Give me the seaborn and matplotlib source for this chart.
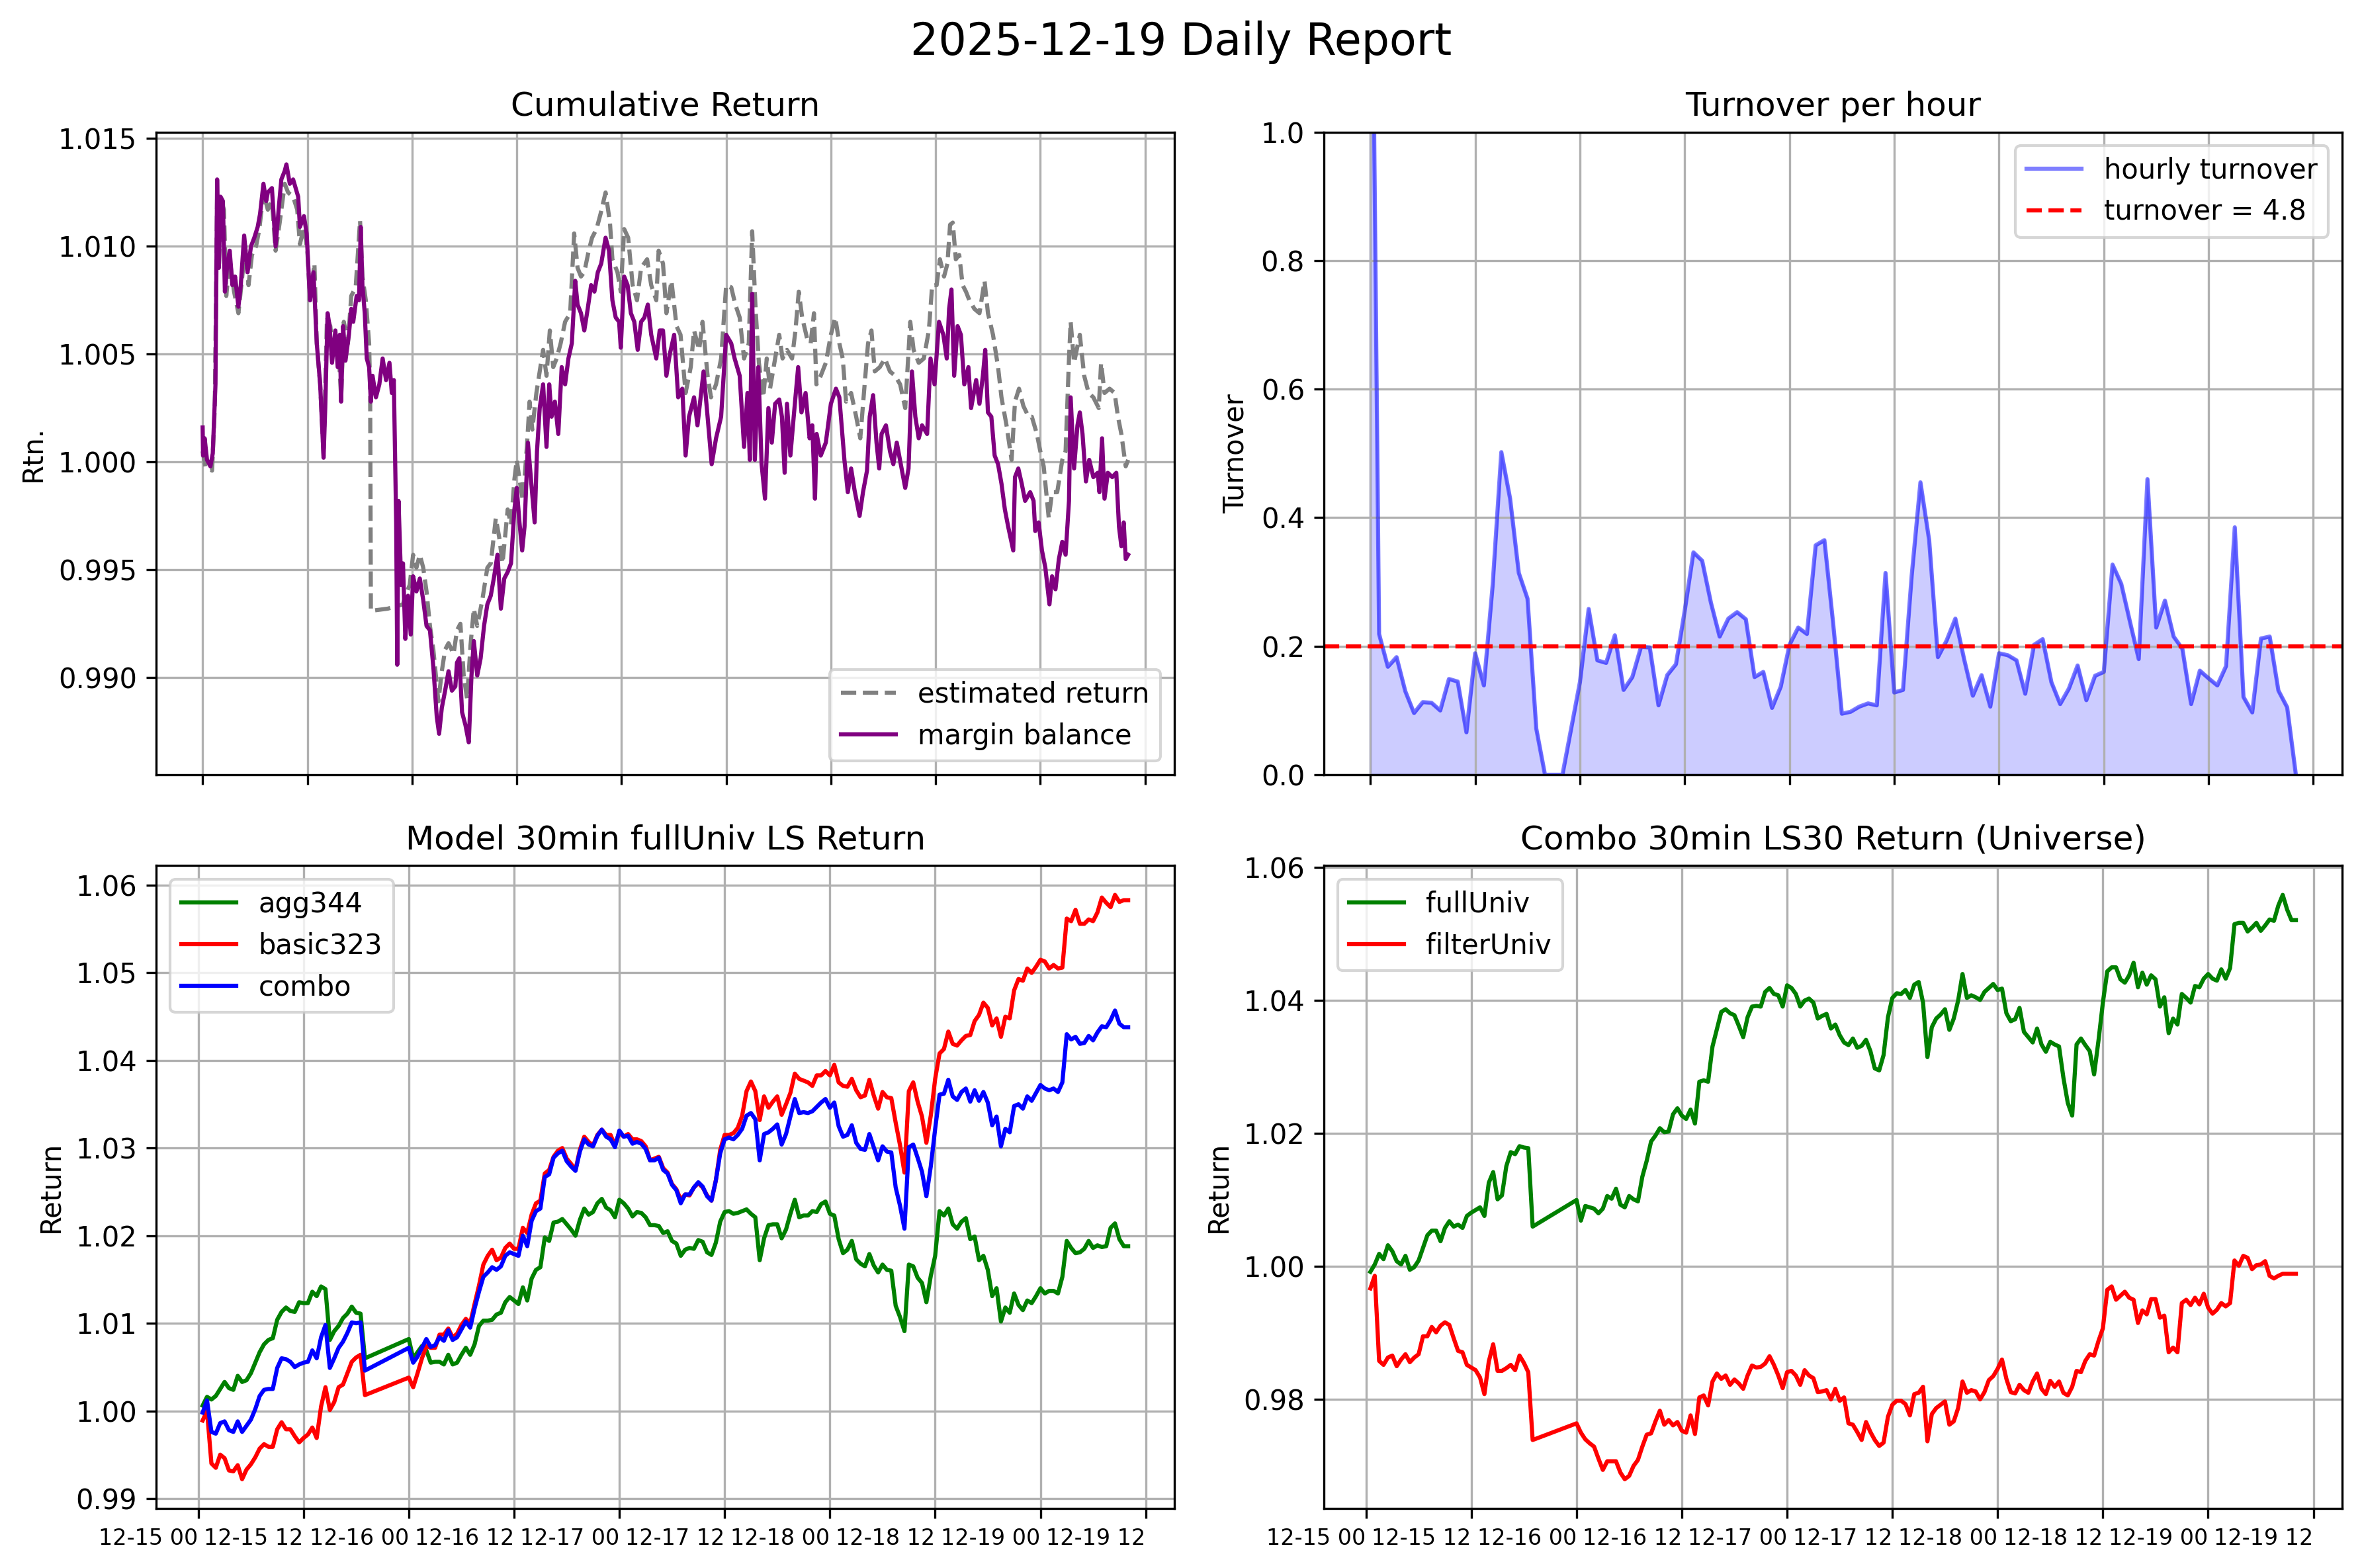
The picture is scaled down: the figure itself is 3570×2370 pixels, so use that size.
import numpy as np
import pandas as pd
import matplotlib
matplotlib.use('Agg')
import matplotlib.pyplot as plt
import matplotlib.dates as mdates
import seaborn as sns

START = pd.Timestamp('2025-12-15 00:00')
REPORT_DATE = '2025-12-19'

# --- Cumulative return: (hours since 12-15 00:00, value) ---
margin_balance = [
    (0.00, 1.0016), (0.05, 1.0003), (0.23, 1.0011), (0.50, 1.0001), (0.89, 0.9998), (1.16, 1.0004),
    (1.47, 1.0036), (1.66, 1.0131), (1.86, 1.0090), (2.05, 1.0123), (2.32, 1.0121), (2.55, 1.0079),
    (2.83, 1.0092), (3.10, 1.0098), (3.41, 1.0082), (3.72, 1.0086), (4.10, 1.0072), (4.37, 1.0082),
    (4.76, 1.0105), (5.15, 1.0088), (5.54, 1.0100), (5.92, 1.0104), (6.31, 1.0109), (6.58, 1.0115),
    (6.97, 1.0129), (7.28, 1.0121), (7.47, 1.0125), (7.94, 1.0127), (8.36, 1.0100), (8.75, 1.0119),
    (9.02, 1.0131), (9.41, 1.0135), (9.60, 1.0138), (9.99, 1.0129), (10.37, 1.0131), (10.95, 1.0123),
    (11.15, 1.0109), (11.61, 1.0114), (11.92, 1.0106), (12.31, 1.0075), (12.70, 1.0088), (13.08, 1.0055),
    (13.47, 1.0036), (13.86, 1.0002), (14.05, 1.0025), (14.32, 1.0069), (14.55, 1.0063), (14.83, 1.0046),
    (15.21, 1.0061), (15.48, 1.0044), (15.72, 1.0059), (15.87, 1.0028), (16.10, 1.0063), (16.37, 1.0047),
    (16.76, 1.0059), (17.03, 1.0071), (17.26, 1.0065), (17.65, 1.0077), (17.92, 1.0075), (18.12, 1.0109),
    (18.31, 1.0082), (18.58, 1.0069), (18.81, 1.0048), (19.08, 1.0044), (19.28, 1.0028), (19.47, 1.0040),
    (19.86, 1.0030), (20.25, 1.0036), (20.63, 1.0048), (21.02, 1.0038), (21.41, 1.0046), (21.68, 1.0032),
    (21.91, 1.0038), (22.06, 1.0001), (22.18, 0.9972), (22.30, 0.9906), (22.45, 0.9982), (22.76, 0.9943),
    (22.96, 0.9953), (23.23, 0.9918), (23.54, 0.9938), (23.85, 0.9920), (24.12, 0.9947), (24.50, 0.9940),
    (24.89, 0.9946), (25.28, 0.9936), (25.66, 0.9924), (26.05, 0.9922), (26.44, 0.9905), (26.83, 0.9882),
    (27.10, 0.9874), (27.41, 0.9886), (27.79, 0.9894), (28.18, 0.9903), (28.57, 0.9894), (28.96, 0.9896),
    (29.15, 0.9907), (29.42, 0.9909), (29.73, 0.9884), (30.12, 0.9878), (30.50, 0.9870), (30.81, 0.9901),
    (31.08, 0.9917), (31.47, 0.9901), (31.86, 0.9909), (32.25, 0.9924), (32.63, 0.9934), (33.02, 0.9938),
    (33.41, 0.9947), (33.79, 0.9957), (34.18, 0.9932), (34.57, 0.9946), (34.96, 0.9949), (35.34, 0.9953),
    (35.73, 0.9978), (36.00, 0.9988), (36.31, 0.9972), (36.62, 0.9959), (36.89, 0.9970), (37.28, 1.0009),
    (37.67, 0.9990), (38.05, 0.9972), (38.32, 1.0005), (38.63, 1.0025), (39.02, 1.0036), (39.41, 1.0007),
    (39.72, 1.0036), (39.99, 1.0021), (40.37, 1.0028), (40.76, 1.0013), (41.15, 1.0044), (41.54, 1.0036),
    (41.92, 1.0048), (42.31, 1.0055), (42.70, 1.0084), (42.97, 1.0073), (43.36, 1.0069), (43.74, 1.0061),
    (44.13, 1.0071), (44.52, 1.0082), (44.90, 1.0079), (45.29, 1.0088), (45.68, 1.0092), (46.18, 1.0104),
    (46.57, 1.0098), (46.96, 1.0075), (47.34, 1.0067), (47.73, 1.0065), (47.92, 1.0053), (48.31, 1.0086),
    (48.70, 1.0082), (49.08, 1.0069), (49.47, 1.0065), (49.86, 1.0052), (50.25, 1.0065), (50.63, 1.0067),
    (51.02, 1.0073), (51.41, 1.0059), (51.99, 1.0048), (52.38, 1.0061), (52.76, 1.0061), (53.15, 1.0040),
    (53.54, 1.0050), (54.04, 1.0059), (54.50, 1.0030), (54.97, 1.0034), (55.35, 1.0003), (55.74, 1.0021),
    (56.32, 1.0030), (56.71, 1.0017), (57.41, 1.0042), (57.87, 1.0021), (58.34, 0.9999), (58.84, 1.0011),
    (59.42, 1.0021), (60.00, 1.0059), (60.58, 1.0055), (60.97, 1.0048), (61.55, 1.0040), (62.05, 1.0007),
    (62.44, 1.0032), (62.71, 1.0001), (62.98, 1.0078), (63.29, 1.0001), (63.68, 1.0044), (64.06, 0.9999),
    (64.45, 0.9983), (64.84, 1.0025), (65.23, 1.0009), (65.61, 1.0027), (66.08, 1.0029), (66.39, 1.0021),
    (66.70, 0.9995), (66.97, 1.0027), (67.36, 1.0003), (67.74, 1.0021), (68.25, 1.0044), (68.63, 1.0023),
    (69.10, 1.0032), (69.56, 1.0011), (69.87, 1.0017), (70.18, 0.9983), (70.37, 1.0013), (70.84, 1.0003),
    (71.42, 1.0009), (72.00, 1.0027), (72.58, 1.0034), (72.97, 1.0030), (73.55, 1.0001), (73.94, 0.9986),
    (74.32, 0.9997), (74.71, 0.9987), (75.29, 0.9975), (75.68, 0.9986), (76.14, 0.9996), (76.45, 1.0021),
    (76.84, 1.0031), (77.23, 1.0009), (77.54, 0.9997), (77.81, 1.0013), (78.31, 1.0017), (78.77, 1.0005),
    (79.16, 0.9999), (79.55, 1.0009), (80.01, 0.9999), (80.52, 0.9988), (80.90, 0.9997), (81.29, 1.0042),
    (81.68, 1.0021), (82.07, 1.0011), (82.45, 1.0017), (83.03, 1.0013), (83.42, 1.0048), (83.88, 1.0036),
    (84.39, 1.0065), (84.89, 1.0059), (85.28, 1.0048), (85.55, 1.0071), (85.82, 1.0080), (86.13, 1.0040),
    (86.52, 1.0063), (86.90, 1.0059), (87.29, 1.0036), (87.76, 1.0044), (88.07, 1.0025), (88.65, 1.0038),
    (89.03, 1.0027), (89.42, 1.0040), (89.69, 1.0052), (90.00, 1.0023), (90.39, 1.0021), (90.77, 1.0003),
    (91.16, 0.9999), (91.55, 0.9990), (91.94, 0.9978), (92.32, 0.9970), (92.90, 0.9959), (93.10, 0.9993),
    (93.48, 0.9997), (93.87, 0.9990), (94.26, 0.9982), (94.84, 0.9986), (95.23, 0.9982), (95.42, 0.9968),
    (95.81, 0.9972), (96.19, 0.9959), (96.58, 0.9951), (97.05, 0.9934), (97.35, 0.9947), (97.74, 0.9941),
    (98.13, 0.9955), (98.52, 0.9963), (98.90, 0.9957), (99.29, 0.9982), (99.48, 1.0030), (99.87, 0.9997),
    (100.26, 1.0017), (100.53, 1.0023), (100.84, 1.0013), (101.23, 0.9991), (101.61, 1.0001), (102.08, 0.9993),
    (102.58, 0.9995), (102.78, 0.9986), (103.08, 1.0011), (103.36, 0.9983), (103.74, 0.9995), (104.25, 0.9993),
    (104.71, 0.9995), (105.02, 0.9970), (105.29, 0.9961), (105.56, 0.9972), (105.79, 0.9955), (106.07, 0.9957),
]

estimated_return = [
    (0.00, 1.0005), (0.31, 0.9998), (0.70, 0.9997), (1.08, 0.9996), (1.39, 1.0025), (1.66, 1.0123),
    (1.86, 1.0090), (2.13, 1.0121), (2.44, 1.0117), (2.71, 1.0077), (3.10, 1.0094), (3.60, 1.0079),
    (4.10, 1.0069), (4.49, 1.0084), (4.88, 1.0100), (5.26, 1.0082), (5.65, 1.0096), (6.12, 1.0100),
    (6.50, 1.0108), (6.97, 1.0125), (7.47, 1.0117), (7.94, 1.0121), (8.36, 1.0098), (8.83, 1.0111),
    (9.41, 1.0129), (9.79, 1.0125), (10.37, 1.0123), (10.84, 1.0117), (11.15, 1.0101), (11.61, 1.0109),
    (12.00, 1.0098), (12.31, 1.0075), (12.81, 1.0092), (13.08, 1.0055), (13.47, 1.0036), (13.86, 1.0003),
    (14.25, 1.0067), (14.63, 1.0063), (15.02, 1.0048), (15.48, 1.0059), (15.87, 1.0030), (16.18, 1.0065),
    (16.65, 1.0055), (17.03, 1.0077), (17.54, 1.0081), (18.04, 1.0112), (18.31, 1.0086), (18.70, 1.0075),
    (19.08, 1.0055), (19.20, 1.0032), (19.28, 0.9931), (21.21, 0.9932), (22.96, 0.9934), (23.23, 0.9938),
    (23.73, 0.9943), (24.12, 0.9957), (24.50, 0.9951), (24.89, 0.9957), (25.28, 0.9951), (25.66, 0.9940),
    (26.05, 0.9924), (26.44, 0.9913), (27.02, 0.9889), (27.41, 0.9903), (27.79, 0.9913), (28.18, 0.9916),
    (28.76, 0.9911), (29.15, 0.9922), (29.54, 0.9925), (29.92, 0.9901), (30.31, 0.9890), (30.70, 0.9915),
    (31.08, 0.9932), (31.47, 0.9924), (32.05, 0.9936), (32.63, 0.9951), (33.02, 0.9953), (33.60, 0.9974),
    (33.99, 0.9965), (34.37, 0.9953), (34.96, 0.9978), (35.34, 0.9971), (35.73, 0.9992), (36.00, 1.0001),
    (36.31, 0.9992), (36.70, 0.9982), (37.16, 1.0007), (37.47, 1.0028), (37.78, 1.0015), (38.25, 1.0032),
    (38.63, 1.0042), (39.02, 1.0052), (39.41, 1.0040), (39.79, 1.0061), (40.18, 1.0044), (40.57, 1.0048),
    (41.03, 1.0055), (41.54, 1.0065), (42.12, 1.0069), (42.58, 1.0106), (42.97, 1.0090), (43.36, 1.0086),
    (43.74, 1.0088), (44.25, 1.0098), (44.63, 1.0104), (45.14, 1.0108), (45.60, 1.0115), (46.18, 1.0125),
    (46.68, 1.0111), (46.96, 1.0094), (47.54, 1.0088), (47.92, 1.0079), (48.31, 1.0108), (48.77, 1.0104),
    (49.28, 1.0082), (49.78, 1.0075), (50.25, 1.0090), (50.94, 1.0094), (51.41, 1.0082), (51.99, 1.0075),
    (52.26, 1.0098), (52.76, 1.0092), (53.15, 1.0069), (53.73, 1.0084), (54.31, 1.0063), (54.77, 1.0059),
    (55.35, 1.0032), (55.94, 1.0044), (56.32, 1.0061), (56.90, 1.0052), (57.29, 1.0065), (57.87, 1.0040),
    (58.26, 1.0030), (58.84, 1.0036), (59.42, 1.0048), (60.00, 1.0082), (60.58, 1.0081), (61.05, 1.0073),
    (61.55, 1.0067), (62.05, 1.0048), (62.59, 1.0055), (62.98, 1.0107), (63.37, 1.0071), (63.75, 1.0046),
    (64.26, 1.0030), (64.65, 1.0048), (65.03, 1.0034), (65.61, 1.0048), (66.08, 1.0059), (66.46, 1.0048),
    (66.97, 1.0052), (67.55, 1.0048), (67.94, 1.0061), (68.32, 1.0079), (68.71, 1.0067), (69.29, 1.0057),
    (69.68, 1.0055), (70.06, 1.0069), (70.34, 1.0036), (70.84, 1.0040), (71.42, 1.0046), (72.00, 1.0059),
    (72.50, 1.0067), (72.97, 1.0055), (73.36, 1.0048), (73.74, 1.0028), (74.32, 1.0032), (74.90, 1.0021),
    (75.37, 1.0011), (75.87, 1.0036), (76.26, 1.0055), (76.65, 1.0061), (77.03, 1.0042), (77.61, 1.0044),
    (78.19, 1.0048), (78.77, 1.0042), (79.36, 1.0040), (79.94, 1.0036), (80.52, 1.0025), (81.10, 1.0065),
    (81.48, 1.0052), (82.07, 1.0046), (82.65, 1.0048), (83.23, 1.0061), (83.61, 1.0082), (84.12, 1.0082),
    (84.50, 1.0094), (84.97, 1.0086), (85.36, 1.0092), (85.66, 1.0110), (85.97, 1.0111), (86.32, 1.0094),
    (86.71, 1.0096), (87.10, 1.0082), (87.48, 1.0079), (87.87, 1.0075), (88.45, 1.0071), (89.03, 1.0069),
    (89.61, 1.0084), (90.00, 1.0069), (90.58, 1.0059), (91.16, 1.0044), (91.55, 1.0030), (92.13, 1.0017),
    (92.71, 1.0001), (93.10, 1.0028), (93.56, 1.0034), (94.06, 1.0026), (94.65, 1.0021), (95.03, 1.0021),
    (95.61, 1.0013), (96.00, 1.0005), (96.39, 0.9998), (96.97, 0.9974), (97.35, 0.9986), (97.94, 0.9986),
    (98.52, 1.0001), (98.90, 1.0005), (99.29, 1.0048), (99.48, 1.0065), (99.87, 1.0046), (100.53, 1.0059),
    (101.03, 1.0040), (101.54, 1.0032), (102.08, 1.0030), (102.70, 1.0025), (102.97, 1.0046), (103.36, 1.0032),
    (103.94, 1.0034), (104.52, 1.0032), (104.90, 1.0021), (105.29, 1.0013), (105.79, 0.9998), (106.07, 1.0001),
]

# --- hourly turnover, from 12-15 00:00 ---
hourly_turnover = [
    1.600, 0.219, 0.168, 0.183, 0.130, 0.096, 0.113, 0.112, 0.100, 0.149,
    0.145, 0.066, 0.189, 0.139, 0.294, 0.502, 0.430, 0.314, 0.274, 0.072,
    0.000, 0.000, 0.000, 0.072, 0.144, 0.258, 0.178, 0.174, 0.217, 0.132,
    0.152, 0.199, 0.198, 0.108, 0.155, 0.172, 0.255, 0.346, 0.333, 0.268,
    0.215, 0.243, 0.253, 0.242, 0.152, 0.160, 0.104, 0.137, 0.202, 0.229,
    0.219, 0.357, 0.365, 0.236, 0.095, 0.098, 0.106, 0.111, 0.108, 0.314,
    0.128, 0.132, 0.310, 0.455, 0.365, 0.183, 0.209, 0.243, 0.180, 0.123,
    0.155, 0.106, 0.189, 0.186, 0.178, 0.126, 0.202, 0.211, 0.144, 0.110,
    0.134, 0.170, 0.116, 0.154, 0.160, 0.327, 0.297, 0.238, 0.180, 0.460,
    0.229, 0.271, 0.215, 0.196, 0.110, 0.162, 0.150, 0.139, 0.169, 0.385,
    0.121, 0.097, 0.212, 0.215, 0.131, 0.105, 0.000,
]
daily_turnover = 4.8

# --- 30min LS returns (slots 38..46 missing) ---
agg344 = [
    1.0006, 1.0016, 1.0013, 1.0017, 1.0025, 1.0033, 1.0026, 1.0024, 1.0040, 1.0033,
    1.0035, 1.0043, 1.0055, 1.0067, 1.0076, 1.0081, 1.0083, 1.0104, 1.0113, 1.0118,
    1.0114, 1.0113, 1.0124, 1.0123, 1.0123, 1.0136, 1.0131, 1.0142, 1.0139, 1.0081,
    1.0091, 1.0097, 1.0106, 1.0111, 1.0119, 1.0112, 1.0111, 1.0060,
    1.0082, 1.0060, 1.0067, 1.0074, 1.0069, 1.0055, 1.0056, 1.0056, 1.0053, 1.0064,
    1.0053, 1.0055, 1.0064, 1.0072, 1.0064, 1.0076, 1.0097, 1.0103, 1.0103, 1.0104,
    1.0110, 1.0112, 1.0124, 1.0130, 1.0126, 1.0122, 1.0141, 1.0126, 1.0151, 1.0161,
    1.0164, 1.0198, 1.0194, 1.0215, 1.0216, 1.0219, 1.0213, 1.0207, 1.0200, 1.0218,
    1.0231, 1.0224, 1.0227, 1.0237, 1.0242, 1.0232, 1.0229, 1.0221, 1.0241, 1.0237,
    1.0231, 1.0222, 1.0227, 1.0226, 1.0221, 1.0212, 1.0212, 1.0211, 1.0203, 1.0205,
    1.0194, 1.0191, 1.0177,
    1.0184, 1.0186, 1.0185, 1.0195, 1.0193, 1.0181, 1.0178, 1.0192, 1.0216, 1.0227,
    1.0228, 1.0225, 1.0226, 1.0228, 1.0230, 1.0225, 1.0221, 1.0172, 1.0197, 1.0212,
    1.0213, 1.0213, 1.0197, 1.0207, 1.0225, 1.0241, 1.0221, 1.0223, 1.0223, 1.0228,
    1.0227, 1.0236, 1.0239, 1.0225, 1.0223, 1.0196, 1.0180, 1.0184, 1.0194, 1.0173,
    1.0168, 1.0165, 1.0179, 1.0166, 1.0158, 1.0167, 1.0161, 1.0160, 1.0120, 1.0107,
    1.0091, 1.0167, 1.0165, 1.0152, 1.0146, 1.0124, 1.0154, 1.0177, 1.0228, 1.0223,
    1.0231, 1.0213, 1.0208, 1.0216, 1.0220, 1.0196, 1.0199, 1.0172, 1.0177, 1.0161,
    1.0131, 1.0140, 1.0102, 1.0118, 1.0112, 1.0134, 1.0121, 1.0115, 1.0126, 1.0123,
    1.0131, 1.0140, 1.0134, 1.0137, 1.0137, 1.0134, 1.0153, 1.0194, 1.0186, 1.0180,
    1.0181, 1.0185, 1.0194, 1.0186, 1.0189, 1.0187, 1.0188, 1.0209, 1.0214, 1.0196,
    1.0188, 1.0188,
]
basic323 = [
    0.9989, 1.0000, 0.9940, 0.9935, 0.9950, 0.9946, 0.9932, 0.9931, 0.9938, 0.9922,
    0.9933, 0.9939, 0.9947, 0.9957, 0.9962, 0.9959, 0.9959, 0.9979, 0.9987, 0.9979,
    0.9979, 0.9971, 0.9964, 0.9969, 0.9973, 0.9981, 0.9969, 1.0005, 1.0027, 1.0001,
    1.0010, 1.0027, 1.0030, 1.0043, 1.0056, 1.0061, 1.0064, 1.0018,
    1.0038, 1.0027, 1.0043, 1.0060, 1.0074, 1.0072, 1.0072, 1.0087, 1.0087, 1.0094,
    1.0084, 1.0088, 1.0098, 1.0105, 1.0100, 1.0122, 1.0143, 1.0167, 1.0177, 1.0184,
    1.0172, 1.0175, 1.0186, 1.0191, 1.0185, 1.0185, 1.0209, 1.0203, 1.0224, 1.0237,
    1.0240, 1.0271, 1.0275, 1.0290, 1.0297, 1.0300, 1.0288, 1.0282, 1.0275, 1.0298,
    1.0313, 1.0307, 1.0303, 1.0315, 1.0321, 1.0315, 1.0315, 1.0303, 1.0318, 1.0313,
    1.0316, 1.0310, 1.0310, 1.0308, 1.0302, 1.0286, 1.0288, 1.0290, 1.0277, 1.0272,
    1.0259, 1.0253, 1.0241,
    1.0247, 1.0246, 1.0255, 1.0260, 1.0255, 1.0246, 1.0240, 1.0263, 1.0298, 1.0315,
    1.0315, 1.0317, 1.0323, 1.0337, 1.0365, 1.0376, 1.0365, 1.0332, 1.0359, 1.0346,
    1.0353, 1.0359, 1.0338, 1.0350, 1.0363, 1.0385, 1.0379, 1.0377, 1.0375, 1.0371,
    1.0383, 1.0383, 1.0388, 1.0383, 1.0395, 1.0375, 1.0371, 1.0370, 1.0379, 1.0366,
    1.0358, 1.0360, 1.0378, 1.0360, 1.0345, 1.0364, 1.0358, 1.0357, 1.0329, 1.0303,
    1.0272, 1.0365, 1.0375, 1.0353, 1.0336, 1.0306, 1.0337, 1.0379, 1.0408, 1.0413,
    1.0433, 1.0419, 1.0417, 1.0423, 1.0428, 1.0429, 1.0445, 1.0452, 1.0466, 1.0460,
    1.0440, 1.0448, 1.0427, 1.0450, 1.0448, 1.0480, 1.0493, 1.0491, 1.0505, 1.0500,
    1.0507, 1.0515, 1.0513, 1.0505, 1.0509, 1.0505, 1.0506, 1.0562, 1.0559, 1.0572,
    1.0556, 1.0556, 1.0561, 1.0559, 1.0569, 1.0586, 1.0580, 1.0575, 1.0589, 1.0581,
    1.0583, 1.0583,
]
combo = [
    0.9998, 1.0012, 0.9976, 0.9974, 0.9986, 0.9988, 0.9978, 0.9976, 0.9988, 0.9976,
    0.9983, 0.9990, 1.0002, 1.0017, 1.0024, 1.0025, 1.0025, 1.0049, 1.0060, 1.0059,
    1.0056, 1.0050, 1.0053, 1.0055, 1.0056, 1.0069, 1.0060, 1.0084, 1.0098, 1.0049,
    1.0060, 1.0072, 1.0079, 1.0089, 1.0101, 1.0100, 1.0101, 1.0046,
    1.0072, 1.0055, 1.0062, 1.0072, 1.0082, 1.0073, 1.0075, 1.0084, 1.0080, 1.0092,
    1.0081, 1.0084, 1.0093, 1.0102, 1.0095, 1.0117, 1.0136, 1.0153, 1.0158, 1.0164,
    1.0161, 1.0165, 1.0177, 1.0181, 1.0179, 1.0177, 1.0200, 1.0188, 1.0217, 1.0228,
    1.0231, 1.0267, 1.0270, 1.0289, 1.0294, 1.0297, 1.0285, 1.0279, 1.0274, 1.0296,
    1.0310, 1.0304, 1.0302, 1.0314, 1.0321, 1.0313, 1.0310, 1.0301, 1.0320, 1.0313,
    1.0314, 1.0305, 1.0307, 1.0305, 1.0299, 1.0286, 1.0286, 1.0289, 1.0275, 1.0271,
    1.0258, 1.0252, 1.0237,
    1.0247, 1.0247, 1.0255, 1.0261, 1.0256, 1.0245, 1.0240, 1.0263, 1.0294, 1.0310,
    1.0312, 1.0310, 1.0315, 1.0322, 1.0337, 1.0340, 1.0333, 1.0286, 1.0316, 1.0318,
    1.0322, 1.0327, 1.0304, 1.0316, 1.0336, 1.0356, 1.0340, 1.0341, 1.0340, 1.0342,
    1.0347, 1.0352, 1.0356, 1.0346, 1.0352, 1.0325, 1.0313, 1.0315, 1.0326, 1.0306,
    1.0299, 1.0298, 1.0316, 1.0301, 1.0286, 1.0302, 1.0296, 1.0295, 1.0255, 1.0234,
    1.0208, 1.0301, 1.0304, 1.0289, 1.0273, 1.0245, 1.0279, 1.0322, 1.0361, 1.0362,
    1.0378, 1.0359, 1.0355, 1.0364, 1.0368, 1.0353, 1.0366, 1.0354, 1.0364, 1.0352,
    1.0326, 1.0336, 1.0302, 1.0322, 1.0318, 1.0348, 1.0350, 1.0345, 1.0359, 1.0354,
    1.0363, 1.0372, 1.0368, 1.0366, 1.0368, 1.0364, 1.0375, 1.0430, 1.0424, 1.0427,
    1.0419, 1.0420, 1.0428, 1.0423, 1.0432, 1.0439, 1.0438, 1.0446, 1.0457, 1.0442,
    1.0438, 1.0438,
]
full_univ = [
    0.9992, 1.0003, 1.0019, 1.0011, 1.0032, 1.0023, 1.0008, 1.0003, 1.0016, 0.9995,
    0.9999, 1.0009, 1.0028, 1.0047, 1.0054, 1.0054, 1.0038, 1.0058, 1.0068, 1.0060,
    1.0063, 1.0058, 1.0076, 1.0081, 1.0085, 1.0089, 1.0076, 1.0126, 1.0142, 1.0101,
    1.0107, 1.0151, 1.0172, 1.0169, 1.0181, 1.0179, 1.0178, 1.0060,
    1.0100, 1.0069, 1.0091, 1.0089, 1.0087, 1.0080, 1.0087, 1.0106, 1.0102, 1.0117,
    1.0093, 1.0089, 1.0106, 1.0101, 1.0098, 1.0135, 1.0159, 1.0188, 1.0197, 1.0208,
    1.0202, 1.0203, 1.0229, 1.0238, 1.0227, 1.0222, 1.0236, 1.0215, 1.0278, 1.0280,
    1.0278, 1.0331, 1.0357, 1.0383, 1.0387, 1.0381, 1.0378, 1.0362, 1.0345, 1.0375,
    1.0391, 1.0392, 1.0391, 1.0413, 1.0419, 1.0410, 1.0408, 1.0391, 1.0423, 1.0419,
    1.0410, 1.0391, 1.0400, 1.0403, 1.0397, 1.0373, 1.0377, 1.0380, 1.0358, 1.0364,
    1.0348, 1.0337, 1.0333, 1.0343,
    1.0329, 1.0332, 1.0341, 1.0324, 1.0298, 1.0295, 1.0318, 1.0375, 1.0404,
    1.0411, 1.0410, 1.0416, 1.0404, 1.0424, 1.0428, 1.0397, 1.0315, 1.0360, 1.0373,
    1.0379, 1.0387, 1.0356, 1.0373, 1.0400, 1.0440, 1.0404, 1.0408, 1.0405, 1.0401,
    1.0413, 1.0419, 1.0425, 1.0416, 1.0418, 1.0381, 1.0369, 1.0372, 1.0389, 1.0353,
    1.0345, 1.0337, 1.0358, 1.0334, 1.0323, 1.0338, 1.0334, 1.0331, 1.0284, 1.0246,
    1.0227, 1.0334, 1.0343, 1.0333, 1.0324, 1.0289, 1.0340, 1.0397, 1.0444, 1.0450,
    1.0450, 1.0432, 1.0427, 1.0438, 1.0457, 1.0420, 1.0442, 1.0424, 1.0438, 1.0432,
    1.0391, 1.0405, 1.0351, 1.0373, 1.0364, 1.0410, 1.0404, 1.0397, 1.0422, 1.0420,
    1.0433, 1.0440, 1.0433, 1.0430, 1.0447, 1.0433, 1.0449, 1.0515, 1.0517, 1.0517,
    1.0504, 1.0510, 1.0517, 1.0505, 1.0513, 1.0522, 1.0520, 1.0543, 1.0559, 1.0537,
    1.0521, 1.0521,
]
filter_univ = [
    0.9967, 0.9986, 0.9858, 0.9852, 0.9863, 0.9866, 0.9850, 0.9860, 0.9868, 0.9856,
    0.9863, 0.9868, 0.9895, 0.9895, 0.9909, 0.9901, 0.9911, 0.9916, 0.9912, 0.9892,
    0.9873, 0.9871, 0.9852, 0.9848, 0.9844, 0.9833, 0.9808, 0.9857, 0.9883, 0.9843,
    0.9843, 0.9847, 0.9852, 0.9844, 0.9866, 0.9855, 0.9841, 0.9739,
    0.9764, 0.9750, 0.9740, 0.9734, 0.9729, 0.9711, 0.9694, 0.9707, 0.9707, 0.9707,
    0.9690, 0.9680, 0.9685, 0.9700, 0.9709, 0.9729, 0.9747, 0.9749, 0.9767, 0.9783,
    0.9762, 0.9769, 0.9761, 0.9766, 0.9753, 0.9750, 0.9776, 0.9748, 0.9803, 0.9806,
    0.9791, 0.9827, 0.9839, 0.9831, 0.9836, 0.9822, 0.9830, 0.9824, 0.9816, 0.9836,
    0.9851, 0.9848, 0.9849, 0.9854, 0.9865, 0.9852, 0.9836, 0.9817, 0.9841, 0.9843,
    0.9836, 0.9822, 0.9844, 0.9836, 0.9832, 0.9811, 0.9812, 0.9814, 0.9800, 0.9816,
    0.9798, 0.9803, 0.9764, 0.9762,
    0.9751, 0.9739, 0.9766, 0.9751, 0.9739, 0.9730, 0.9735, 0.9774, 0.9792,
    0.9798, 0.9798, 0.9793, 0.9776, 0.9808, 0.9810, 0.9819, 0.9737, 0.9778, 0.9787,
    0.9792, 0.9797, 0.9762, 0.9767, 0.9787, 0.9827, 0.9810, 0.9814, 0.9812, 0.9800,
    0.9811, 0.9829, 0.9835, 0.9846, 0.9860, 0.9831, 0.9811, 0.9809, 0.9822, 0.9814,
    0.9810, 0.9827, 0.9839, 0.9816, 0.9808, 0.9828, 0.9819, 0.9827, 0.9810, 0.9806,
    0.9819, 0.9843, 0.9841, 0.9858, 0.9868, 0.9866, 0.9888, 0.9907, 0.9965, 0.9970,
    0.9950, 0.9956, 0.9962, 0.9953, 0.9950, 0.9915, 0.9934, 0.9928, 0.9951, 0.9951,
    0.9923, 0.9926, 0.9871, 0.9878, 0.9871, 0.9945, 0.9950, 0.9942, 0.9953, 0.9943,
    0.9959, 0.9938, 0.9929, 0.9935, 0.9945, 0.9940, 0.9945, 1.0009, 1.0001, 1.0016,
    1.0013, 0.9996, 1.0002, 1.0003, 1.0008, 0.9986, 0.9982, 0.9986, 0.9989, 0.9989,
    0.9989, 0.9989,
]


def to_frame(points):
    df = pd.DataFrame(points, columns=['hours', 'value'])
    df['time'] = START + pd.to_timedelta(df['hours'], unit='h')
    return df


margin_df = to_frame(margin_balance)
est_df = to_frame(estimated_return)

turn_df = pd.DataFrame({
    'time': pd.date_range(START, periods=len(hourly_turnover), freq='h'),
    'turnover': hourly_turnover,
})

slots = pd.date_range(START + pd.Timedelta(minutes=30), periods=212, freq='30min')
ls_time = slots[np.r_[0:38, 47:212]]
model_df = pd.DataFrame({'time': ls_time, 'agg344': agg344, 'basic323': basic323, 'combo': combo})
univ_df = pd.DataFrame({'time': ls_time, 'fullUniv': full_univ, 'filterUniv': filter_univ})

fig, axes = plt.subplots(2, 2, figsize=(11.9, 7.9))
fig.subplots_adjust(left=0.0662, right=0.9916, bottom=0.038, top=0.9158, wspace=0.147, hspace=0.1415)
fig.suptitle(f'{REPORT_DATE} Daily Report', fontsize=16, y=0.987)

# Cumulative return
ax = axes[0, 0]
sns.lineplot(data=est_df, x='time', y='value', ax=ax, color='gray', linestyle='--',
             estimator=None, label='estimated return')
sns.lineplot(data=margin_df, x='time', y='value', ax=ax, color='purple',
             estimator=None, label='margin balance')
ax.set_ylim(0.9855, 1.0153)
ax.set_title('Cumulative Return')
ax.set_ylabel('Rtn.')
ax.legend(loc='lower right')

# Turnover per hour
ax = axes[0, 1]
sns.lineplot(data=turn_df, x='time', y='turnover', ax=ax, color='blue', alpha=0.5,
             estimator=None, label='hourly turnover')
ax.fill_between(turn_df['time'], turn_df['turnover'], color='blue', alpha=0.2)
ax.axhline(daily_turnover / 24, color='red', linestyle='--', label=f'turnover = {daily_turnover}')
ax.set_ylim(0, 1)
ax.set_title('Turnover per hour')
ax.set_ylabel('Turnover')
ax.legend(loc='upper right')

# Model returns
ax = axes[1, 0]
for name, color in [('agg344', 'green'), ('basic323', 'red'), ('combo', 'blue')]:
    sns.lineplot(data=model_df, x='time', y=name, ax=ax, color=color, estimator=None, label=name)
ax.set_title('Model 30min fullUniv LS Return')
ax.set_ylabel('Return')
ax.legend(loc='upper left')

# Universe returns
ax = axes[1, 1]
for name, color in [('fullUniv', 'green'), ('filterUniv', 'red')]:
    sns.lineplot(data=univ_df, x='time', y=name, ax=ax, color=color, estimator=None, label=name)
ax.set_title('Combo 30min LS30 Return (Universe)')
ax.set_ylabel('Return')
ax.legend(loc='upper left')

for ax in axes.flat:
    ax.xaxis.set_major_locator(mdates.HourLocator(byhour=[0, 12]))
    ax.xaxis.set_major_formatter(mdates.DateFormatter('%m-%d %H'))
    ax.tick_params(axis='x', labelsize=8)
    ax.set_xlabel('')
    ax.grid(True)
for ax in axes[0]:
    ax.tick_params(axis='x', labelbottom=False)
for ax in axes[1]:
    for label in ax.get_xticklabels():
        label.set_horizontalalignment('right')

fig.savefig('out.png', dpi=300)
plt.close(fig)
